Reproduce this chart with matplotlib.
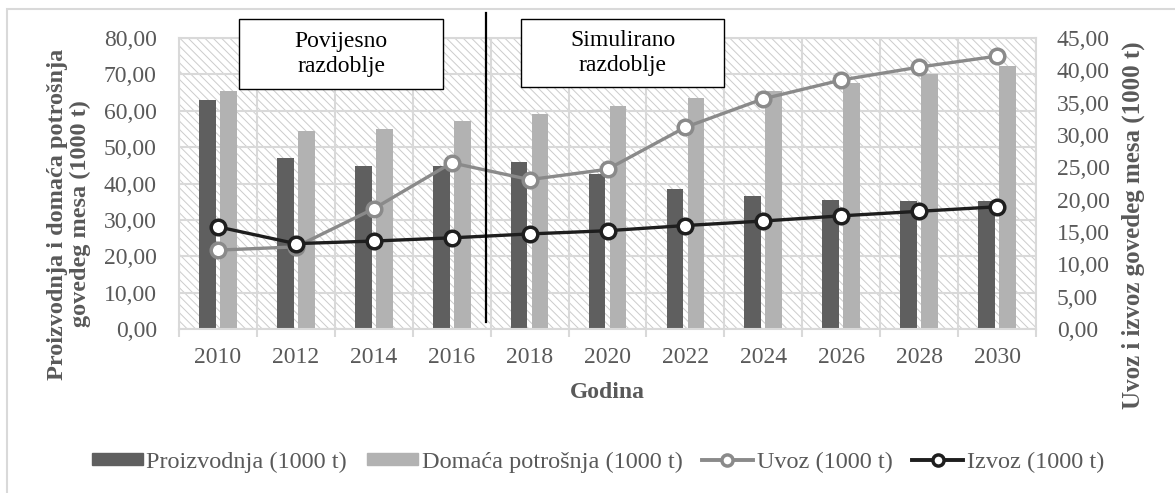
import matplotlib
matplotlib.use('Agg')
import matplotlib.pyplot as plt
from matplotlib.patches import Rectangle, Patch
from matplotlib.lines import Line2D
from matplotlib.ticker import FuncFormatter, FixedLocator
import numpy as np

# podaci (očitano sa slike)
godine = ['2010', '2012', '2014', '2016', '2018', '2020', '2022', '2024', '2026', '2028', '2030']
proizvodnja = [63.0, 47.1, 44.7, 44.8, 45.9, 42.6, 38.5, 36.5, 35.6, 35.2, 35.2]
potrosnja = [65.4, 54.3, 54.9, 57.1, 59.1, 61.2, 63.5, 65.4, 67.7, 70.0, 72.2]
uvoz = [12.2, 12.7, 18.6, 25.7, 23.1, 24.7, 31.2, 35.6, 38.5, 40.5, 42.2]
izvoz = [15.8, 13.2, 13.6, 14.1, 14.7, 15.2, 16.0, 16.7, 17.5, 18.2, 18.9]

W, H = 1175, 493
SIVA_TXT = '#595959'
GRID = '#d9d9d9'
C_PRO = '#5f5f5f'
C_POT = '#b2b2b2'
C_UV = '#8a8a8a'
C_IZ = '#1e1e1e'

plt.rcParams['font.family'] = ['Liberation Serif', 'DejaVu Serif']
plt.rcParams['hatch.linewidth'] = 0.7

fig = plt.figure(figsize=(W / 100, H / 100), dpi=100)

def px(x0, y0, x1, y1):
    """piksel okvir -> figure koordinate [l, b, w, h]"""
    return [x0 / W, 1 - y1 / H, (x1 - x0) / W, (y1 - y0) / H]

ax = fig.add_axes(px(179, 38, 1036, 329))
x = np.arange(len(godine))

# šrafirana pozadina
ax.patch.set_facecolor('white')
ax.add_patch(Rectangle((0, 0), 1, 1, transform=ax.transAxes, facecolor='white',
                       edgecolor='#cccccc', hatch='\\\\\\\\', lw=0, zorder=0.2))

bw = 0.215
ax.bar(x - 0.135, proizvodnja, bw, color=C_PRO, zorder=2)
ax.bar(x + 0.135, potrosnja, bw, color=C_POT, zorder=2)

ax.set_xlim(-0.5, len(godine) - 0.5)
ax.set_ylim(0, 80)
ax.set_yticks(np.arange(0, 81, 10))
ax.yaxis.set_major_formatter(FuncFormatter(lambda v, p: f'{v:.2f}'.replace('.', ',')))
ax.set_xticks(x)
ax.set_xticklabels(godine)
ax.xaxis.set_minor_locator(FixedLocator(np.arange(-0.5, len(godine), 1.0)))
ax.set_axisbelow(True)
ax.grid(axis='y', which='major', color=GRID, lw=1.5, zorder=0.5)
ax.grid(axis='x', which='minor', color=GRID, lw=1.5, zorder=0.5)
ax.tick_params(axis='x', which='major', length=0, pad=13, labelsize=17, labelcolor=SIVA_TXT)
ax.tick_params(axis='x', which='minor', length=6, width=1.5, color=GRID)
ax.tick_params(axis='y', length=0, pad=16, labelsize=17, labelcolor=SIVA_TXT)
for s in ax.spines.values():
    s.set_color(GRID)
    s.set_linewidth(1.5)

ax2 = ax.twinx()
ax2.plot(x, uvoz, color=C_UV, lw=2.4, marker='o', ms=10.5, mfc='white', mec=C_UV, mew=2.5, zorder=3)
ax2.plot(x, izvoz, color=C_IZ, lw=2.4, marker='o', ms=10.5, mfc='white', mec=C_IZ, mew=2.5, zorder=4)
ax2.set_ylim(0, 45)
ax2.set_yticks(np.arange(0, 46, 5))
ax2.yaxis.set_major_formatter(FuncFormatter(lambda v, p: f'{v:.2f}'.replace('.', ',')))
ax2.tick_params(axis='y', length=0, pad=15, labelsize=17, labelcolor=SIVA_TXT)
for s in ax2.spines.values():
    s.set_visible(False)

# naslovi osi
fig.text(69 / W, 1 - 214 / H, 'Proizvodnja i domaća potrošnja\ngovedeg mesa (1000 t)',
         rotation=90, ha='center', va='center', fontsize=17.5, fontweight='bold',
         color=SIVA_TXT, linespacing=1.1)
fig.text(1133 / W, 1 - 225 / H, 'Uvoz i izvoz govedeg mesa (1000 t)', rotation=90,
         ha='center', va='center', fontsize=18, fontweight='bold', color=SIVA_TXT)
fig.text(607 / W, 1 - 393 / H, 'Godina', ha='center', va='center', fontsize=17,
         fontweight='bold', color=SIVA_TXT)

# okvir grafikona
fig.add_artist(Rectangle((7 / W, -0.1), 1.2, 1.1 - 9 / H, transform=fig.transFigure,
                         fill=False, edgecolor=GRID, lw=1.5))

# razdjelna linija i oznake razdoblja
fig.add_artist(Line2D([486 / W, 486 / W], [1 - 13 / H, 1 - 322 / H],
                      transform=fig.transFigure, color='black', lw=1.6, zorder=10))
for (x0, y0, x1, y1), txt in [((239, 19, 443, 89), 'Povijesno\nrazdoblje'),
                              ((521, 19, 724, 87), 'Simulirano\nrazdoblje')]:
    l, b, w, h = px(x0, y0, x1, y1)
    fig.add_artist(Rectangle((l, b), w, h, transform=fig.transFigure, facecolor='white',
                             edgecolor='black', lw=1, zorder=10))
    fig.text(l + w / 2, b + h / 2, txt, ha='center', va='center', fontsize=17,
             color='black', linespacing=1.2, zorder=11)

# legenda
handles = [Patch(color=C_PRO), Patch(color=C_POT),
           Line2D([], [], color=C_UV, lw=2.8, marker='o', ms=8, mfc='white', mec=C_UV, mew=2.5),
           Line2D([], [], color=C_IZ, lw=2.8, marker='o', ms=8, mfc='white', mec=C_IZ, mew=2.5)]
labels = ['Proizvodnja (1000 t)', 'Domaća potrošnja (1000 t)', 'Uvoz (1000 t)', 'Izvoz (1000 t)']
leg = fig.legend(handles, labels, loc='center', bbox_to_anchor=(598 / W, 1 - 462 / H), ncol=4,
                 frameon=False, fontsize=17.5, handlelength=2.1, handleheight=0.4,
                 handletextpad=0.16, columnspacing=0.8, borderaxespad=0)
for t in leg.get_texts():
    t.set_color(SIVA_TXT)

fig.savefig('out.png', dpi=100)
